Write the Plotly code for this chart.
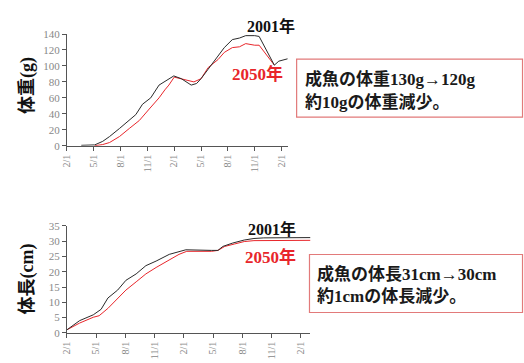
import plotly.graph_objects as go

W, H = 524, 363

# Month offsets from 2/1 and body weight (g)
wt_2001_x = [1.6, 2.5, 3.1, 4.0, 4.76, 5.87, 6.97, 7.7, 8.45, 9.37, 10.3, 11.0, 11.95,
             12.8, 13.9, 14.5, 15.0, 15.8, 16.9, 17.6, 18.5, 19.3, 20.0, 21.0, 21.5,
             22.1, 22.6, 23.2, 23.7, 24.7]
wt_2001_y = [0.5, 0.8, 1, 5.5, 11.5, 21.6, 31.7, 39, 52, 60, 76, 81, 87.5,
             84, 76, 78, 84, 96, 112, 123, 133, 135, 138, 138, 137,
             124.6, 114.5, 101, 106, 109]
wt_2050_x = [3.1, 4.0, 4.76, 5.87, 6.97, 8.1, 9.2, 10.3, 10.95, 11.4, 12.0, 12.8,
             14.2, 15.0, 15.8, 16.9, 17.6, 18.5, 19.3, 20.0, 21.0, 21.5, 22.1, 22.8, 23.2]
wt_2050_y = [0, 1.5, 4, 11.5, 21.6, 31.7, 46, 60, 70, 76, 86, 84,
             80, 84, 98, 108, 117, 123, 124, 128, 126, 126, 117, 106, 101]

# Month offsets from 2/1 and body length (cm)
len_2001_x = [0, 1.3, 2.7, 3.5, 4.2, 5.2, 6.05, 7.1, 8.1, 9.15, 10.5, 11.5, 12.2,
              14.85, 15.5, 16.0, 17.0, 18.2, 19.2, 20.2, 25.0]
len_2001_y = [1, 4, 5.9, 7.7, 11.4, 14, 17.2, 19.3, 22, 23.5, 25.7, 26.7, 27.2,
              27, 27, 28.3, 29.4, 30.4, 30.9, 31.1, 31.2]
len_2050_x = [0, 1.3, 2.7, 3.3, 4.2, 5.2, 6.05, 7.1, 8.1, 9.15, 10.5, 11.5, 12.3,
              14.85, 15.5, 16.2, 17.2, 18.2, 19.2, 25.0]
len_2050_y = [1, 3.2, 5.1, 5.6, 8, 11.4, 14, 16.7, 19.3, 21.4, 24, 25.7, 26.7,
              26.7, 27.0, 28.3, 29.1, 29.9, 30.2, 30.3]

tick_months = [0, 3, 6, 9, 12, 15, 18, 21, 24]
tick_labels = ["2/1", "5/1", "8/1", "11/1", "2/1", "5/1", "8/1", "11/1", "2/1"]
wt_ticks = [0, 20, 40, 60, 80, 100, 120, 140]
len_ticks = [0, 5, 10, 15, 20, 25, 30, 35]

BLACK = "#2a2a2a"
RED = "#e8262b"
SERIF = "Liberation Serif, Noto Sans CJK JP"


def px(x):
    return x / W


def py(y):
    return 1 - y / H


fig = go.Figure()
fig.add_trace(go.Scatter(x=wt_2050_x, y=wt_2050_y, mode="lines",
                         line=dict(color=RED, width=1.0), xaxis="x", yaxis="y"))
fig.add_trace(go.Scatter(x=wt_2001_x, y=wt_2001_y, mode="lines",
                         line=dict(color=BLACK, width=1.0), xaxis="x", yaxis="y"))
fig.add_trace(go.Scatter(x=len_2050_x, y=len_2050_y, mode="lines",
                         line=dict(color=RED, width=1.0), xaxis="x2", yaxis="y2"))
fig.add_trace(go.Scatter(x=len_2001_x, y=len_2001_y, mode="lines",
                         line=dict(color=BLACK, width=1.0), xaxis="x2", yaxis="y2"))

xcommon = dict(tickmode="array", tickvals=tick_months, ticktext=tick_labels,
               tickangle=-90, ticks="outside", ticklen=4, tickcolor="#555",
               showline=True, linecolor="#555", linewidth=1, showgrid=False,
               zeroline=False, tickfont=dict(family=SERIF, size=10, color="#888"))
ycommon = dict(tickmode="array", ticks="outside", ticklen=4, tickcolor="#555",
               showline=True, linecolor="#555", linewidth=1, showgrid=False,
               zeroline=False, tickfont=dict(family=SERIF, size=11, color="#888"))

fig.update_layout(
    width=W, height=H, margin=dict(l=0, r=0, t=0, b=0),
    paper_bgcolor="white", plot_bgcolor="white", showlegend=False,
    xaxis=dict(xcommon, domain=[px(61.7), px(285)], range=[0, 24.7], anchor="y"),
    yaxis=dict(ycommon, domain=[py(144.5), py(29)], range=[0, 140],
               tickvals=wt_ticks, anchor="x"),
    xaxis2=dict(xcommon, domain=[px(61.7), px(308)], range=[0, 25], anchor="y2"),
    yaxis2=dict(ycommon, domain=[py(338), py(227.5)], range=[0, 35],
                tickvals=len_ticks, anchor="x2"),
)

ann = []


def label(text, x, y, size, color, angle=0, anchor="center"):
    ann.append(dict(text=text, x=px(x), y=py(y), xref="paper", yref="paper",
                    showarrow=False, textangle=angle, xanchor=anchor, yanchor="middle",
                    font=dict(family=SERIF, size=size, color=color)))


# axis titles
label("<b>体重(g)</b>", 22, 82, 18, "#111", angle=-90)
label("<b>体長(cm)</b>", 22, 282, 18, "#111", angle=-90)

# series labels
label("<b>2001年</b>", 268, 21, 16, "#111")
label("<b>2050年</b>", 254, 70, 17, RED)
label("<b>2001年</b>", 269, 231, 16, "#111")
label("<b>2050年</b>", 268, 260, 17, RED)

# note boxes
shapes = [
    dict(type="rect", xref="paper", yref="paper", x0=px(294), x1=px(522.5),
         y0=py(115), y1=py(55), line=dict(color="#e27a7a", width=1.2)),
    dict(type="rect", xref="paper", yref="paper", x0=px(307), x1=px(522.5),
         y0=py(317), y1=py(257), line=dict(color="#e27a7a", width=1.2)),
]
label("<b>成魚の体重130g→120g</b>", 300, 75, 17, "#1a1a1a", anchor="left")
label("<b>約10gの体重減少。</b>", 300, 100, 17, "#1a1a1a", anchor="left")
label("<b>成魚の体長31cm→30cm</b>", 313, 277, 17, "#1a1a1a", anchor="left")
label("<b>約1cmの体長減少。</b>", 313, 300, 17, "#1a1a1a", anchor="left")

fig.update_layout(annotations=ann, shapes=shapes)
fig.write_html("out.html")
